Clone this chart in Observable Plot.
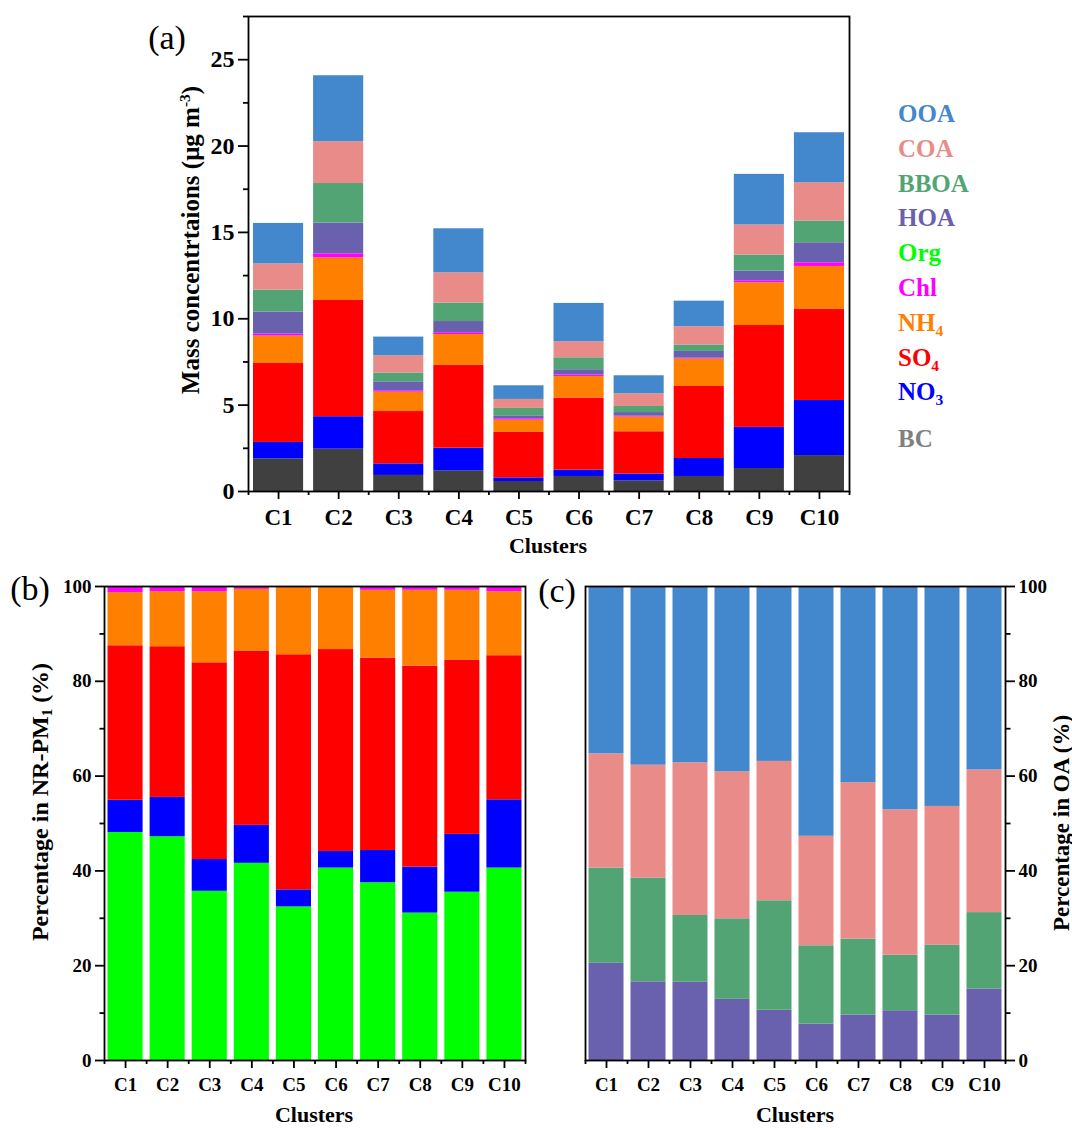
<!DOCTYPE html>
<html><head><meta charset="utf-8">
<script src="https://cdn.jsdelivr.net/npm/d3@7"></script>
<script src="https://cdn.jsdelivr.net/npm/@observablehq/plot@0.6"></script>
<style>
html,body{margin:0;padding:0;background:#fff;}
#root{position:relative;width:1072px;height:1130px;overflow:hidden;font-family:"Liberation Serif","Times New Roman",serif;}
.abs{position:absolute;white-space:nowrap;line-height:1;}
.c{transform:translate(-50%,-50%);}
.r{transform:translate(-50%,-50%) rotate(-90deg);}
.b{font-weight:bold;}
.pl{font-size:34px;font-weight:normal;}
sub{font-size:0.62em;vertical-align:-0.3em;line-height:0;}
sup{font-size:0.62em;vertical-align:0.55em;line-height:0;}
.panel{position:absolute;}
</style></head><body><div id="root"></div>
<script>
// ---------- data ----------
const clusters = ["C1","C2","C3","C4","C5","C6","C7","C8","C9","C10"];

// (a) mass concentrations, µg m-3
const massBC   = [1.89, 2.45, 0.93, 1.20, 0.58, 0.87, 0.62, 0.87, 1.33, 2.08];
const massNO3  = [0.95, 1.88, 0.67, 1.31, 0.21, 0.37, 0.39, 1.04, 2.38, 3.19];
const massSO4  = [4.57, 6.73, 3.03, 4.79, 2.63, 4.17, 2.45, 4.17, 5.90, 5.27];
const massNH4  = [1.59, 2.47, 1.12, 1.79, 0.71, 1.25, 0.85, 1.59, 2.47, 2.49];
const massChl  = [0.11, 0.23, 0.08, 0.10, 0.08, 0.08, 0.05, 0.05, 0.12, 0.21];
const massHOA  = [1.28, 1.78, 0.52, 0.65, 0.17, 0.31, 0.21, 0.39, 0.56, 1.16];
const massBBOA = [1.27, 2.29, 0.51, 1.07, 0.43, 0.69, 0.35, 0.37, 0.93, 1.26];
const massCOA  = [1.52, 2.42, 1.00, 1.75, 0.52, 0.93, 0.74, 1.06, 1.74, 2.21];
const massOOA  = [2.34, 3.82, 1.08, 2.55, 0.79, 2.22, 1.04, 1.48, 2.93, 2.90];

// (b) percentage in NR-PM1
const pctOrg = [48.1, 47.2, 35.7, 41.6, 32.4, 40.6, 37.5, 31.1, 35.5, 40.6];
const pctNO3 = [ 6.8,  8.3,  6.7,  8.0,  3.6,  3.5,  6.8,  9.7, 12.2, 14.4];
const pctSO4 = [32.6, 31.8, 41.5, 36.8, 49.6, 42.6, 40.6, 42.4, 36.7, 30.4];
const pctNH4 = [11.2, 11.6, 15.0, 13.0, 14.2, 13.1, 14.3, 16.0, 14.8, 13.5];
const pctChl = [ 1.2,  1.1,  1.1,  0.6,  0.2,  0.2,  0.8,  0.8,  0.8,  1.1];

// (c) percentage in OA
const oaHOA  = [20.5, 16.6, 16.5, 12.9, 10.6,  7.7,  9.6, 10.5,  9.6, 15.1];
const oaBBOA = [20.1, 21.9, 14.1, 17.0, 23.1, 16.5, 16.0, 11.7, 14.7, 16.1];
const oaCOA  = [24.1, 23.8, 32.2, 31.0, 29.4, 23.1, 33.0, 30.7, 29.3, 30.1];
const oaOOA  = [35.3, 37.7, 37.2, 39.1, 36.9, 52.7, 41.4, 47.1, 46.4, 38.7];

// tick values
const yTicksA = [0, 5, 10, 15, 20, 25];
const yMinorA = [2.5, 7.5, 12.5, 17.5, 22.5, 27.5];
const yTicksP = [0, 20, 40, 60, 80, 100];
const yMinorP = [10, 30, 50, 70, 90];

// species and colours
const speciesA = ["BC","NO3","SO4","NH4","Chl","HOA","BBOA","COA","OOA"];
const speciesB = ["Org","NO3","SO4","NH4","Chl"];
const speciesC = ["HOA","BBOA","COA","OOA"];
const colorOf = {BC:"#404040", NO3:"#0000FF", SO4:"#FF0000", NH4:"#FF8000", Chl:"#FF00FF",
  Org:"#00FF00", HOA:"#6961AE", BBOA:"#52A475", COA:"#E98B88", OOA:"#4387CC"};
const legendItems = [
  ["OOA","OOA","#4387CC"],["COA","COA","#E98B88"],["BBOA","BBOA","#52A475"],["HOA","HOA","#6961AE"],
  ["Org","Org","#00FF00"],["Chl","Chl","#FF00FF"],["NH4","NH<sub>4</sub>","#FF8000"],
  ["SO4","SO<sub>4</sub>","#FF0000"],["NO3","NO<sub>3</sub>","#0000FF"],["BC","BC","#808080"]];

// ---------- build tables ----------
function table(seriesMap) {
  const rows = [];
  for (const [sp, arr] of Object.entries(seriesMap))
    arr.forEach((v, i) => rows.push({idx: i + 1, cluster: clusters[i], species: sp, value: v}));
  return rows;
}
const rowsA = table({BC:massBC, NO3:massNO3, SO4:massSO4, NH4:massNH4, Chl:massChl,
  HOA:massHOA, BBOA:massBBOA, COA:massCOA, OOA:massOOA});
const rowsB = table({Org:pctOrg, NO3:pctNO3, SO4:pctSO4, NH4:pctNH4, Chl:pctChl});
const rowsC = table({HOA:oaHOA, BBOA:oaBBOA, COA:oaCOA, OOA:oaOOA});

const idxTicks = clusters.map((c, i) => i + 1);
const edgeTicks = d3.range(0, clusters.length + 1).map(i => i + 0.5);
const FONT = '"Liberation Serif","Times New Roman",serif';

function bars(rows, species, inset) {
  return Plot.rectY(rows, Plot.stackY({
    x: "idx", x1: d => d.idx - 0.5, x2: d => d.idx + 0.5,
    y: "value", z: "species", fill: "species", order: species,
    insetLeft: inset, insetRight: inset
  }));
}

function panel({rows, species, yDomain, yTicks, yMinor, width, height, margins, inset,
                xFont, yFont, yAnchor, majorX, majorY, xPad}) {
  return Plot.plot({
    width, height,
    marginLeft: margins[0], marginRight: margins[1], marginTop: margins[2], marginBottom: margins[3],
    x: {domain: [0.5, clusters.length + 0.5]},
    y: {domain: yDomain},
    color: {domain: species, range: species.map(s => colorOf[s])},
    style: {fontFamily: FONT, fontWeight: "bold", background: "transparent", overflow: "visible", color: "black"},
    marks: [
      bars(rows, species, inset),
      Plot.axisX({ticks: idxTicks, tickFormat: i => clusters[i - 1], tickSize: majorX, tickPadding: xPad,
        fontSize: xFont, strokeWidth: 1.8, label: null}),
      Plot.axisX({ticks: edgeTicks, tickFormat: () => "", tickSize: majorX / 2, strokeWidth: 1.8, label: null}),
      Plot.axisY({anchor: yAnchor, ticks: yTicks, tickSize: majorY, tickPadding: 4,
        fontSize: yFont, strokeWidth: 1.8, label: null}),
      Plot.axisY({anchor: yAnchor, ticks: yMinor, tickFormat: () => "", tickSize: majorY / 2,
        strokeWidth: 1.8, label: null}),
      Plot.frame({stroke: "black", strokeWidth: 1.8})
    ]
  });
}

const root = document.getElementById("root");
function place(node, left, top) {
  node.classList.add("panel");
  node.style.left = left + "px";
  node.style.top = top + "px";
  root.appendChild(node);
}

place(panel({rows: rowsA, species: speciesA, yDomain: [0, 27.5], yTicks: yTicksA, yMinor: yMinorA,
  width: 1072, height: 560, margins: [248, 223, 16, 69], inset: 5,
  xFont: 23, yFont: 24, yAnchor: "left", majorX: 8, majorY: 10, xPad: 9}), 0, 0);

place(panel({rows: rowsB, species: speciesB, yDomain: [0, 100], yTicks: yTicksP, yMinor: yMinorP,
  width: 560, height: 570, margins: [104, 35, 26, 70], inset: 3.5,
  xFont: 19, yFont: 19, yAnchor: "left", majorX: 8, majorY: 9, xPad: 9}), 0, 560);

place(panel({rows: rowsC, species: speciesC, yDomain: [0, 100], yTicks: yTicksP, yMinor: yMinorP,
  width: 512, height: 570, margins: [25, 67, 26, 70], inset: 3.5,
  xFont: 19, yFont: 19, yAnchor: "right", majorX: 8, majorY: 9, xPad: 9}), 560, 560);

// ---------- text ----------
function label(html, cls, x, y, extra = {}) {
  const d = document.createElement("div");
  d.className = "abs " + cls;
  d.innerHTML = html;
  d.style.left = x + "px";
  d.style.top = y + "px";
  Object.assign(d.style, extra);
  root.appendChild(d);
  return d;
}
label("(a)", "pl c", 167, 38);
label("(b)", "pl c", 30, 589);
label("(c)", "pl c", 557, 591);

label("Mass concentrtaions (μg m<sup>-3</sup>)", "b r", 190, 240, {fontSize: "25px"});
label("Percentage in NR-PM<sub>1</sub> (%)", "b r", 40, 802, {fontSize: "24px"});
label("Percentage in OA (%)", "b r", 1061, 823, {fontSize: "23px"});

label("Clusters", "b c", 548, 546, {fontSize: "22px"});
label("Clusters", "b c", 314, 1115, {fontSize: "22px"});
label("Clusters", "b c", 795, 1115, {fontSize: "22px"});

// legend
legendItems.forEach(([key, html, col], i) => {
  const y = 101 + i * 34.8 + (key === "BC" ? 12 : 0);
  label(html, "b", 898, y, {fontSize: "25px", color: col});
});
</script>
</body></html>
